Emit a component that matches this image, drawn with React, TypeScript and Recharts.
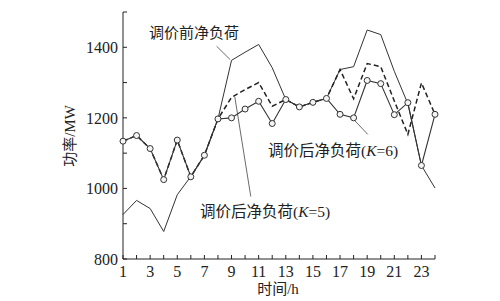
import React from "react";
import { LineChart, Line, XAxis, YAxis, ReferenceLine } from "recharts";

// hours of the day
const hours = [1, 2, 3, 4, 5, 6, 7, 8, 9, 10, 11, 12, 13, 14, 15, 16, 17, 18, 19, 20, 21, 22, 23, 24];
// net load before price adjustment (MW)
const before = [926, 966, 943, 878, 982, 1034, 1094, 1197, 1363, 1386, 1408, 1342, 1252, 1231, 1244, 1255, 1337, 1345, 1449, 1436, 1332, 1240, 1065, 1001];
// net load after adjustment, K=6
const k6 = [1134, 1150, 1113, 1025, 1137, 1033, 1094, 1197, 1258, 1280, 1300, 1233, 1252, 1231, 1244, 1255, 1337, 1254, 1354, 1345, 1248, 1153, 1299, 1210];
// net load after adjustment, K=5
const k5 = [1134, 1150, 1113, 1025, 1137, 1033, 1094, 1197, 1200, 1225, 1247, 1184, 1252, 1231, 1244, 1255, 1210, 1200, 1306, 1297, 1209, 1243, 1065, 1210];

const yTicks = [800, 900, 1000, 1100, 1200, 1300, 1400, 1500];
const yLabelTicks = [800, 1000, 1200, 1400];
const xLabelTicks = [1, 3, 5, 7, 9, 11, 13, 15, 17, 19, 21, 23];

const data = hours.map((h, i) => ({ h, before: before[i], k6: k6[i], k5: k5[i] }));

const INK = "#222";
const NUM_FONT = "'Liberation Serif', 'Times New Roman', serif";
const CJK_FONT = "'Liberation Serif', 'Noto Sans CJK SC', serif";

const BottomTick = ({ x, y, payload }: any) => (
  <g>
    <line x1={x} x2={x} y1={y} y2={y - 4} stroke={INK} strokeWidth={1} />
    {xLabelTicks.includes(payload.value) && (
      <text x={x} y={y + 18} textAnchor="middle" fontSize={16} fontFamily={NUM_FONT} fill={INK}>
        {payload.value}
      </text>
    )}
  </g>
);

const TopTick = ({ x, y }: any) => (
  <line x1={x} x2={x} y1={y} y2={y + 4} stroke={INK} strokeWidth={1} />
);

const LeftTick = ({ x, y, payload }: any) => (
  <g>
    <line x1={x} x2={x + 4} y1={y} y2={y} stroke={INK} strokeWidth={1} />
    {yLabelTicks.includes(payload.value) && (
      <text x={x - 5} y={y} dy="0.36em" textAnchor="end" fontSize={16} fontFamily={NUM_FONT} fill={INK}>
        {payload.value}
      </text>
    )}
  </g>
);

const RightTick = ({ x, y }: any) => (
  <line x1={x} x2={x - 4} y1={y} y2={y} stroke={INK} strokeWidth={1} />
);

export default function App() {
  return (
    <div style={{ position: "absolute", left: 0, top: 0, width: 500, height: 301, background: "#fff" }}>
      <LineChart width={500} height={301} data={data} margin={{ top: 12, right: 65, bottom: 0, left: 0 }}>
        <XAxis
          dataKey="h"
          type="number"
          domain={[1, 24]}
          ticks={hours}
          interval={0}
          height={42}
          tickSize={0}
          tickMargin={0}
          tickLine={false}
          axisLine={{ stroke: INK }}
          tick={<BottomTick />}
        />
        <XAxis
          xAxisId="top"
          orientation="top"
          dataKey="h"
          type="number"
          domain={[1, 24]}
          ticks={hours}
          interval={0}
          height={0}
          tickSize={0}
          tickMargin={0}
          tickLine={false}
          axisLine={{ stroke: INK }}
          tick={<TopTick />}
        />
        <YAxis
          type="number"
          domain={[800, 1500]}
          ticks={yTicks}
          interval={0}
          width={123}
          tickSize={0}
          tickMargin={0}
          tickLine={false}
          axisLine={{ stroke: INK }}
          tick={<LeftTick />}
        />
        <YAxis
          yAxisId="right"
          orientation="right"
          type="number"
          domain={[800, 1500]}
          ticks={yTicks}
          interval={0}
          width={0}
          tickSize={0}
          tickMargin={0}
          tickLine={false}
          axisLine={{ stroke: INK }}
          tick={<RightTick />}
        />
        <ReferenceLine segment={[{ x: 7.9, y: 1403 }, { x: 8.9, y: 1365 }]} stroke="#444" strokeWidth={0.8} />
        <ReferenceLine segment={[{ x: 9.24, y: 1260 }, { x: 10.42, y: 977 }]} stroke="#444" strokeWidth={0.8} />
        <ReferenceLine segment={[{ x: 17.94, y: 1198 }, { x: 19.05, y: 1153 }]} stroke="#444" strokeWidth={0.8} />
        <Line dataKey="before" stroke="#333" strokeWidth={1} dot={false} isAnimationActive={false} />
        <Line dataKey="k6" stroke="#222" strokeWidth={1.5} strokeDasharray="5 3" dot={false} isAnimationActive={false} />
        <Line
          dataKey="k5"
          stroke="#333"
          strokeWidth={1.1}
          dot={{ r: 3, stroke: "#333", strokeWidth: 1, fill: "#f4f4f4" }}
          isAnimationActive={false}
        />
      </LineChart>
      <svg width={500} height={301} style={{ position: "absolute", left: 0, top: 0, pointerEvents: "none" }}>
        <g fontFamily={CJK_FONT} fill={INK}>
          <text x={149} y={33} fontSize={15} dominantBaseline="central">调价前净负荷</text>
          <text x={268} y={150} fontSize={15.5} dominantBaseline="central">
            调价后净负荷(<tspan fontStyle="italic">K</tspan>=6)
          </text>
          <text x={200} y={211} fontSize={15.5} dominantBaseline="central">
            调价后净负荷(<tspan fontStyle="italic">K</tspan>=5)
          </text>
          <text x={278} y={289} fontSize={15} textAnchor="middle" dominantBaseline="central">时间/h</text>
          <text
            x={70}
            y={136}
            fontSize={15}
            textAnchor="middle"
            dominantBaseline="central"
            transform="rotate(-90 70 136)"
          >
            功率/MW
          </text>
        </g>
      </svg>
    </div>
  );
}
